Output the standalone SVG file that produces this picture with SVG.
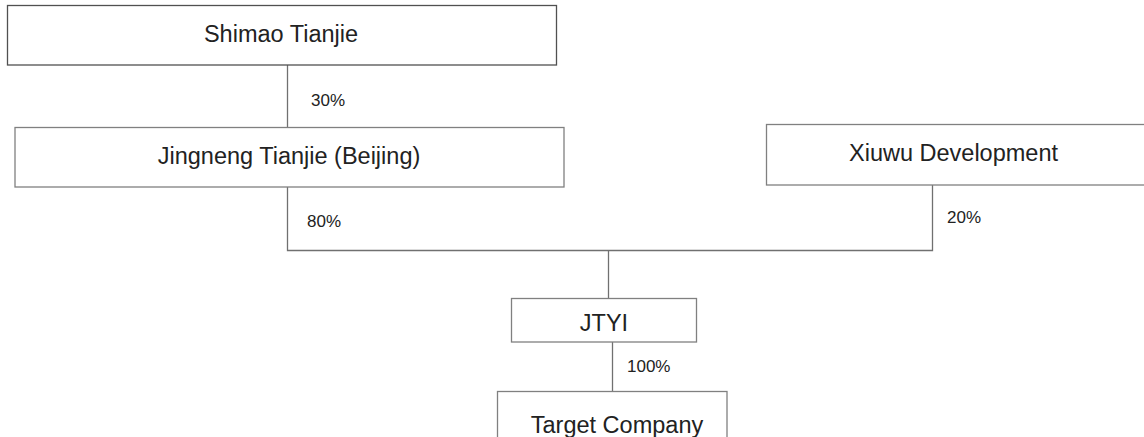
<svg xmlns="http://www.w3.org/2000/svg" width="1144" height="437" viewBox="0 0 1144 437">
<style>
.box{fill:#fff;stroke:#808080;stroke-width:1.3}
.dark{stroke:#505050}
.lbl{font-family:"Liberation Sans",Arial,sans-serif;font-size:23.5px;fill:#222;text-anchor:middle}
.pct{font-family:"Liberation Sans",Arial,sans-serif;font-size:17px;fill:#222}
.ln{fill:none;stroke:#707070;stroke-width:1.3}
</style>
<rect width="1144" height="437" fill="#fff"/>
<g id="connectors">
<path class="ln" d="M287.5 65V127"/>
<path class="ln" d="M287.5 187V250.5H932.5V185"/>
<path class="ln" d="M608.5 250.5V298"/>
<path class="ln" d="M612.5 342V391"/>
<text class="pct" x="311" y="106">30%</text>
<text class="pct" x="307" y="227">80%</text>
<text class="pct" x="947" y="223">20%</text>
<text class="pct" x="627" y="372">100%</text>
</g>
<g id="shimao">
<rect class="box dark" x="7.5" y="5.5" width="549" height="59.5"/>
<text class="lbl" x="281" y="42">Shimao Tianjie</text>
</g>
<g id="jingneng">
<rect class="box" x="15" y="127.5" width="549" height="59.5"/>
<text class="lbl" x="289" y="164">Jingneng Tianjie (Beijing)</text>
</g>
<g id="xiuwu">
<rect class="box" x="766.5" y="124.5" width="380" height="60.5"/>
<text class="lbl" x="953.5" y="161">Xiuwu Development</text>
</g>
<g id="jtyi">
<rect class="box" x="511.5" y="298.5" width="185" height="43.5"/>
<text class="lbl" x="604" y="331">JTYI</text>
</g>
<g id="target">
<rect class="box" x="497.5" y="391.5" width="229.5" height="60"/>
<text class="lbl" x="617" y="433">Target Company</text>
</g>
</svg>
